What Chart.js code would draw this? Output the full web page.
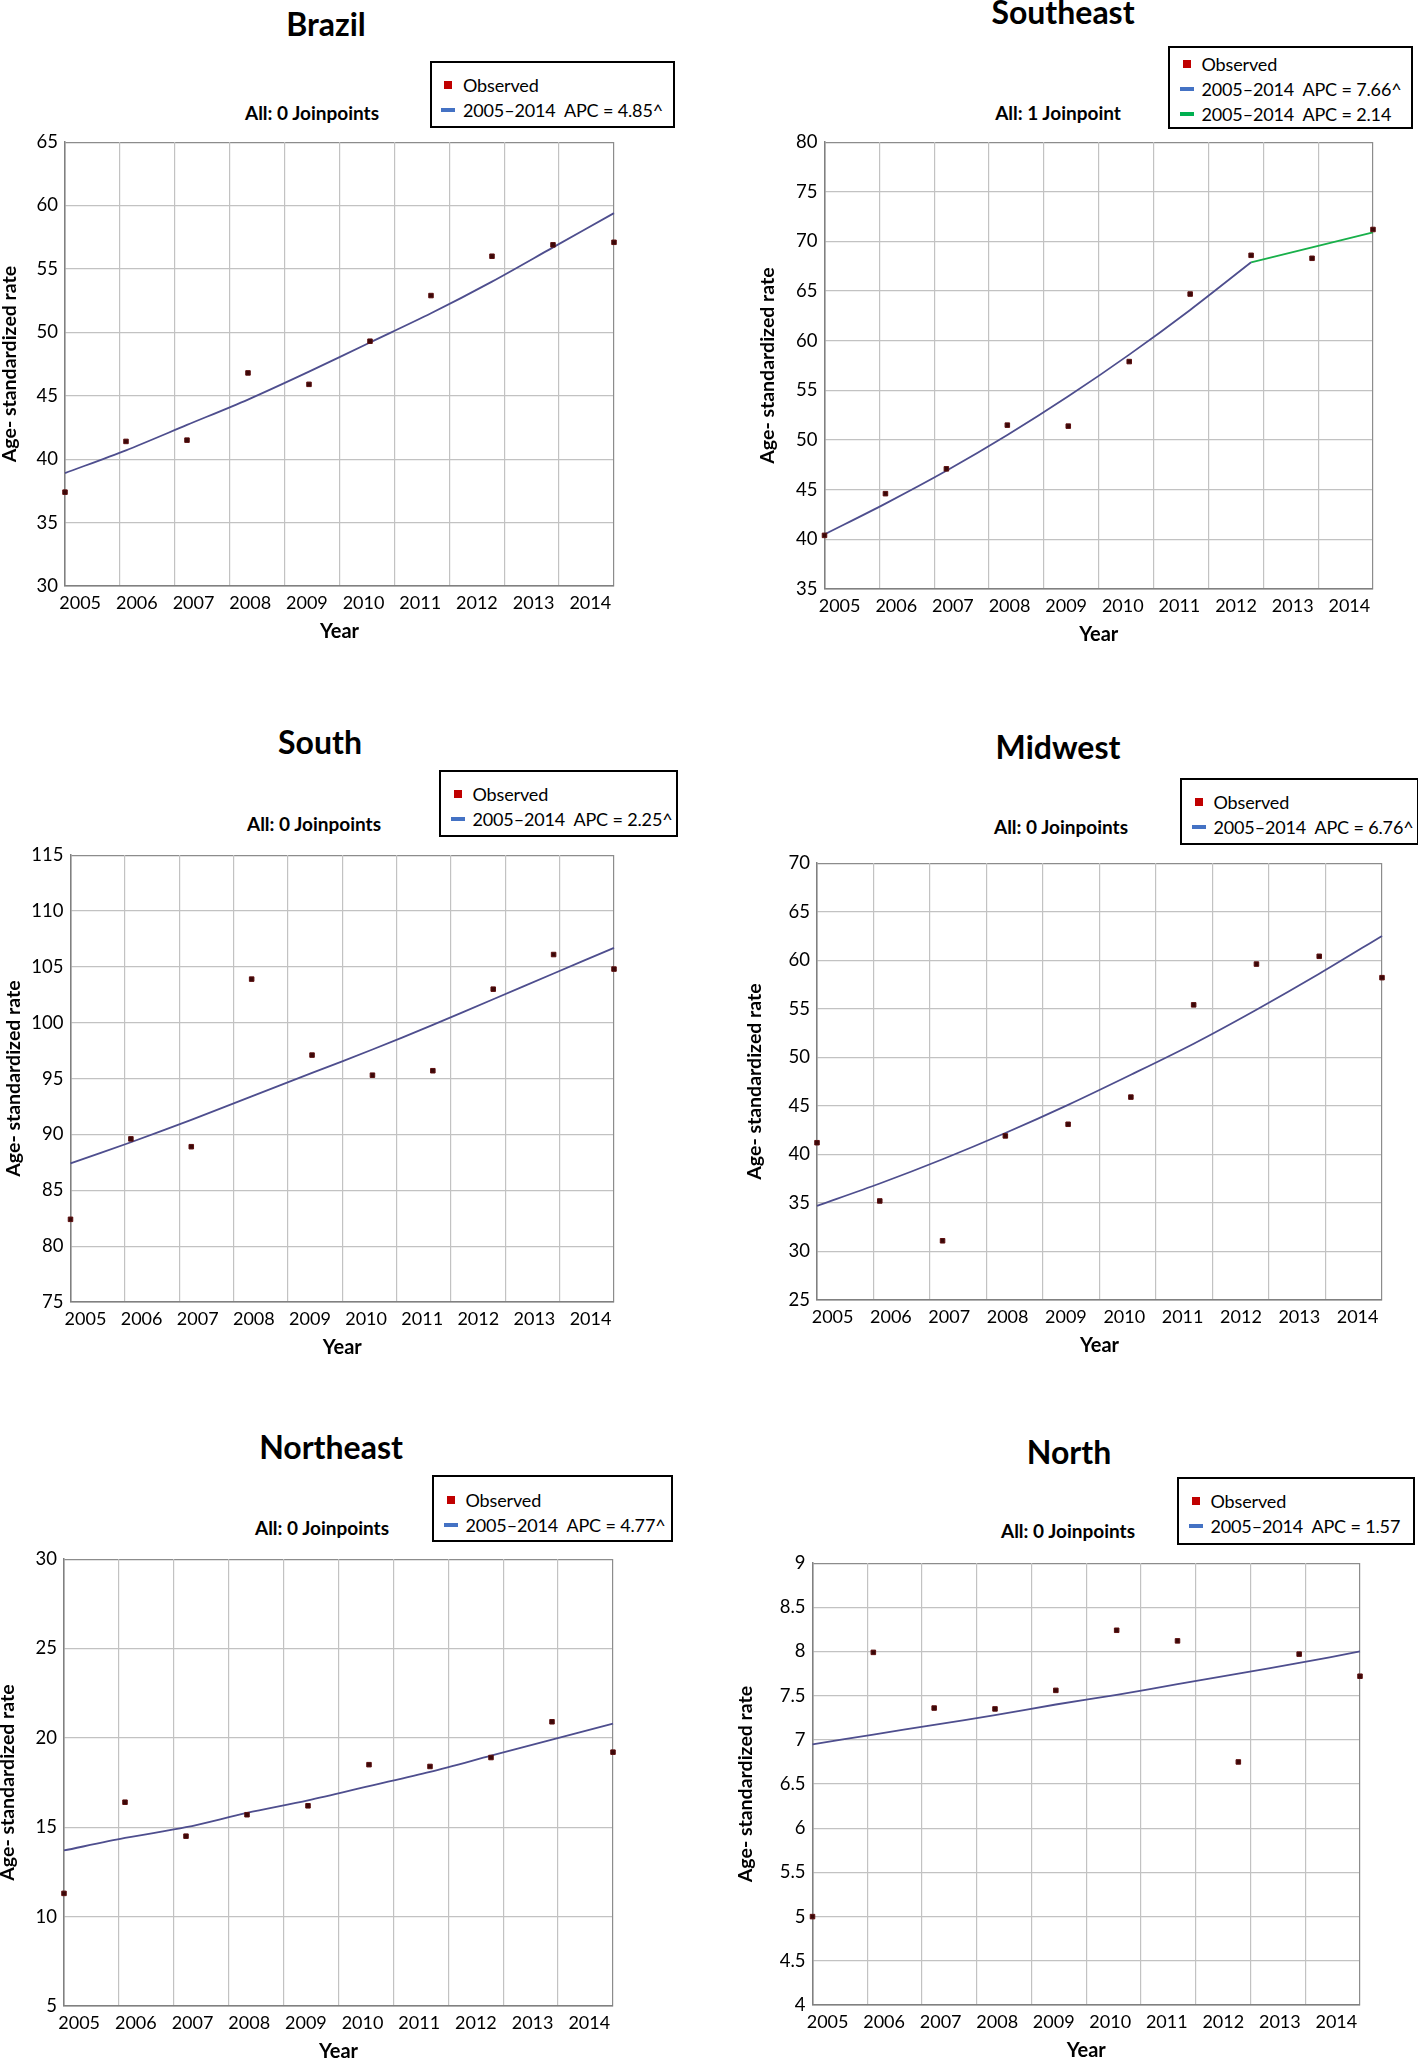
<!DOCTYPE html>
<html>
<head>
<meta charset="utf-8">
<title>Age-standardized rate trends, Brazil and regions, 2005–2014</title>
<script src="https://cdn.jsdelivr.net/npm/chart.js@4.4.1/dist/chart.umd.min.js"></script>
<style>
  html, body { margin: 0; padding: 0; background: #fff; overflow: hidden; }
  #page { position: relative; width: 1418px; height: 2058px; overflow: hidden; font-family: Lato, "Open Sans", sans-serif; color: #000; }
  .ptitle { position: absolute; font-size: 32px; font-weight: bold; line-height: 32px; white-space: nowrap; transform: translate(-50%, -50%); }
  .psub { position: absolute; font-size: 19px; font-weight: bold; line-height: 19px; white-space: nowrap; transform: translate(-50%, -50%); }
  .legend { position: absolute; box-sizing: border-box; border: 2px solid #000; background: #fff; }
  .lg-row { position: absolute; left: 0; right: 0; height: 26px; }
  .lg-text { position: absolute; font-size: 18px; letter-spacing: -0.15px; line-height: 26px; white-space: pre; }
  .lg-mark { position: absolute; top: 50%; transform: translateY(-50%); }
  canvas { position: absolute; }
</style>
</head>
<body>
<div id="page"></div>
<script>
// ---- data ----
const years = [2005, 2006, 2007, 2008, 2009, 2010, 2011, 2012, 2013, 2014];

const brazilObserved = [37.4, 41.4, 41.5, 46.8, 45.9, 49.3, 52.9, 56.0, 56.9, 57.1];
const brazilFit = [38.9, 40.7, 42.7, 44.7, 46.9, 49.2, 51.5, 54.0, 56.7, 59.4];
const brazilTicks = [30, 35, 40, 45, 50, 55, 60, 65];

const southeastObserved = [40.4, 44.6, 47.1, 51.5, 51.4, 57.9, 64.7, 68.6, 68.3, 71.2];
const southeastFit1 = [40.5, 43.6, 46.9, 50.5, 54.4, 58.6, 63.1, 67.9]; // 2005-2012
const southeastFit2 = [67.9, 69.4, 70.9];                               // 2012-2014
const southeastTicks = [35, 40, 45, 50, 55, 60, 65, 70, 75, 80];

const southObserved = [82.4, 89.6, 88.9, 103.9, 97.1, 95.3, 95.7, 103.0, 106.1, 104.8];
const southFit = [87.4, 89.3, 91.3, 93.4, 95.5, 97.6, 99.8, 102.1, 104.4, 106.7];
const southTicks = [75, 80, 85, 90, 95, 100, 105, 110, 115];

const midwestObserved = [41.2, 35.2, 31.1, 41.9, 43.1, 45.9, 55.4, 59.6, 60.4, 58.2];
const midwestFit = [34.7, 37.0, 39.5, 42.2, 45.1, 48.2, 51.4, 54.9, 58.6, 62.5];
const midwestTicks = [25, 30, 35, 40, 45, 50, 55, 60, 65, 70];

const northeastObserved = [11.3, 16.4, 14.5, 15.7, 16.2, 18.5, 18.4, 18.9, 20.9, 19.2];
const northeastFit = [13.7, 14.4, 15.0, 15.8, 16.5, 17.3, 18.1, 19.0, 19.9, 20.8];
const northeastTicks = [5, 10, 15, 20, 25, 30];

const northObserved = [5.0, 7.99, 7.36, 7.35, 7.56, 8.24, 8.12, 6.75, 7.97, 7.72];
const northFit = [6.95, 7.06, 7.17, 7.28, 7.40, 7.51, 7.63, 7.75, 7.87, 8.00];
const northTicks = [4, 4.5, 5, 5.5, 6, 6.5, 7, 7.5, 8, 8.5, 9];

// ---- styles ----
const OBS_FILL = '#3a0808';
const OBS_BORDER = '#5c0f0f';
const FIT_COLOR = '#4e4e8e';
const FIT2_COLOR = '#18b04a';
const LEG_RED = '#c00000';
const LEG_BLUE = '#4472c4';
const LEG_GREEN = '#00b050';

Chart.defaults.font.family = 'Lato, "Open Sans", sans-serif';
Chart.defaults.color = '#000';

const pairs = (xs, ys) => ys.map((v, i) => ({ x: xs[i], y: v }));

const panels = [
  {
    title: 'Brazil', titlePos: [326, 24], sub: 'All: 0 Joinpoints', subPos: [312, 112],
    plot: [65, 138, 614, 586], yTitleX: 10, yTicks: brazilTicks,
    observed: brazilObserved, fits: [{ xs: years, ys: brazilFit, color: FIT_COLOR }],
    legend: { box: [429.5, 60.5, 245.5, 67], first: 24.5,
      rows: [['pt', 'Observed'], [LEG_BLUE, '2005–2014  APC = 4.85^']] }
  },
  {
    title: 'Southeast', titlePos: [1063, 12], sub: 'All: 1 Joinpoint', subPos: [1058, 112],
    plot: [824.5, 138, 1373, 589], yTitleX: 768, yTicks: southeastTicks,
    observed: southeastObserved,
    fits: [{ xs: years.slice(0, 8), ys: southeastFit1, color: FIT_COLOR },
           { xs: years.slice(7), ys: southeastFit2, color: FIT2_COLOR }],
    legend: { box: [1168, 46, 245, 83], first: 18,
      rows: [['pt', 'Observed'], [LEG_BLUE, '2005–2014  APC = 7.66^'], [LEG_GREEN, '2005–2014  APC = 2.14']] }
  },
  {
    title: 'South', titlePos: [320, 742], sub: 'All: 0 Joinpoints', subPos: [314, 822.5],
    plot: [70.5, 851, 614, 1302], yTitleX: 14, yTicks: southTicks,
    observed: southObserved, fits: [{ xs: years, ys: southFit, color: FIT_COLOR }],
    legend: { box: [439, 769.5, 239, 67], first: 24.3,
      rows: [['pt', 'Observed'], [LEG_BLUE, '2005–2014  APC = 2.25^']] }
  },
  {
    title: 'Midwest', titlePos: [1058, 747], sub: 'All: 0 Joinpoints', subPos: [1061, 825.8],
    plot: [817, 858.7, 1381.5, 1299.3], yTitleX: 755, yTicks: midwestTicks,
    observed: midwestObserved, fits: [{ xs: years, ys: midwestFit, color: FIT_COLOR }],
    legend: { box: [1180, 778, 239, 67.3], first: 23.5,
      rows: [['pt', 'Observed'], [LEG_BLUE, '2005–2014  APC = 6.76^']] }
  },
  {
    title: 'Northeast', titlePos: [331, 1447], sub: 'All: 0 Joinpoints', subPos: [322, 1527],
    plot: [64, 1554.5, 612.5, 2005.5], yTitleX: 8, yTicks: northeastTicks,
    observed: northeastObserved, fits: [{ xs: years, ys: northeastFit, color: FIT_COLOR }],
    legend: { box: [432, 1474.5, 241, 67], first: 25.5,
      rows: [['pt', 'Observed'], [LEG_BLUE, '2005–2014  APC = 4.77^']] }
  },
  {
    title: 'North', titlePos: [1069, 1452], sub: 'All: 0 Joinpoints', subPos: [1068, 1529.5],
    plot: [812.5, 1558.6, 1359.5, 2004.5], yTitleX: 746, yTicks: northTicks,
    observed: northObserved, fits: [{ xs: years, ys: northFit, color: FIT_COLOR }],
    legend: { box: [1177, 1477, 238, 67.5], first: 24,
      rows: [['pt', 'Observed'], [LEG_BLUE, '2005–2014  APC = 1.57']] }
  }
];

const page = document.getElementById('page');

function addText(cls, text, pos) {
  const el = document.createElement('div');
  el.className = cls;
  el.textContent = text;
  el.style.left = pos[0] + 'px';
  el.style.top = pos[1] + 'px';
  page.appendChild(el);
}

function addLegend(lg) {
  const [l, t, w, h] = lg.box;
  const box = document.createElement('div');
  box.className = 'legend';
  box.style.cssText = `left:${l}px;top:${t}px;width:${w}px;height:${h}px`;
  lg.rows.forEach((r, i) => {
    const row = document.createElement('div');
    row.className = 'lg-row';
    row.style.top = (lg.first - 2 - 13 + i * 25) + 'px';
    const mark = document.createElement('span');
    mark.className = 'lg-mark';
    if (r[0] === 'pt') {
      mark.style.cssText += `left:12.5px;width:8px;height:8px;background:${LEG_RED}`;
    } else {
      mark.style.cssText += `left:9.5px;width:14px;height:4px;background:${r[0]}`;
    }
    const txt = document.createElement('span');
    txt.className = 'lg-text';
    txt.style.left = '31.5px';
    txt.textContent = r[1];
    row.appendChild(mark);
    row.appendChild(txt);
    box.appendChild(row);
  });
  page.appendChild(box);
}

function buildPanel(p) {
  const [L, T, R, B] = p.plot;
  const cl = p.yTitleX - 12;
  const ct = T - 14;
  const cr = R + 14;
  const cb = B + 58;
  const canvas = document.createElement('canvas');
  canvas.width = Math.round(cr - cl);
  canvas.height = Math.round(cb - ct);
  canvas.style.cssText = `left:${cl}px;top:${ct}px;width:${canvas.width}px;height:${canvas.height}px`;
  page.appendChild(canvas);

  const yMin = p.yTicks[0];
  const yMax = p.yTicks[p.yTicks.length - 1];
  const span = years[years.length - 1] - years[0];
  // 10 equal column divisions between first and last year
  const colEdges = Array.from({ length: 11 }, (_, k) => years[0] + k * span / 10);

  const datasets = [{
    label: 'Observed',
    data: pairs(years, p.observed),
    showLine: false,
    pointStyle: 'rect',
    pointRadius: 3.2,
    pointBackgroundColor: OBS_FILL,
    pointBorderColor: OBS_BORDER,
    pointBorderWidth: 1,
    clip: false
  }];
  p.fits.forEach(f => datasets.push({
    data: pairs(f.xs, f.ys),
    showLine: true,
    borderColor: f.color,
    borderWidth: 1.8,
    pointRadius: 0,
    tension: 0.3,
    clip: false
  }));

  const edgeColor = (ctx, lo, hi) =>
    (ctx.tick && (ctx.tick.value === lo || ctx.tick.value === hi)) ? '#8c8c8c' : '#c2c2c2';

  new Chart(canvas, {
    type: 'scatter',
    data: { datasets },
    options: {
      responsive: false,
      animation: false,
      devicePixelRatio: 1,
      layout: { padding: { top: T - ct, right: cr - R, left: 0, bottom: 0 } },
      plugins: { legend: { display: false }, tooltip: { enabled: false } },
      scales: {
        y: {
          type: 'linear', min: yMin, max: yMax,
          afterBuildTicks: s => { s.ticks = p.yTicks.map(v => ({ value: v })); },
          afterFit: s => { s.width = L - cl; },
          grid: { color: ctx => edgeColor(ctx, yMin, yMax), lineWidth: 1.2, drawTicks: false },
          border: { color: '#808080', width: 1.5 },
          ticks: { padding: 7, font: { size: 18.5 }, color: '#000', callback: v => String(v) },
          title: { display: true, text: 'Age- standardized rate', padding: 0, color: '#000',
                   font: { size: 19.5, weight: 'bold' } }
        },
        x: {
          type: 'linear', position: 'bottom', min: years[0], max: years[years.length - 1],
          afterBuildTicks: s => { s.ticks = colEdges.map(v => ({ value: v })); },
          afterFit: s => { s.height = 0; },
          grid: { color: ctx => edgeColor(ctx, years[0], years[years.length - 1]), lineWidth: 1.2, drawTicks: false },
          border: { color: '#808080', width: 1.5 },
          ticks: { display: false }
        },
        x2: {
          type: 'linear', position: 'bottom', min: years[0] - 0.267, max: years[0] + 9.418,
          afterBuildTicks: s => { s.ticks = years.map(v => ({ value: v })); },
          afterFit: s => { s.height = cb - B; },
          grid: { display: false, drawTicks: false },
          border: { display: false },
          ticks: { padding: 6, autoSkip: false, maxRotation: 0, font: { size: 18 }, color: '#000',
                   callback: v => String(v) },
          title: { display: true, text: 'Year', padding: 0, color: '#000', font: { size: 20, weight: 'bold' } }
        }
      }
    }
  });

  addText('ptitle', p.title, p.titlePos);
  addText('psub', p.sub, p.subPos);
  addLegend(p.legend);
}

panels.forEach(buildPanel);
</script>
</body>
</html>
